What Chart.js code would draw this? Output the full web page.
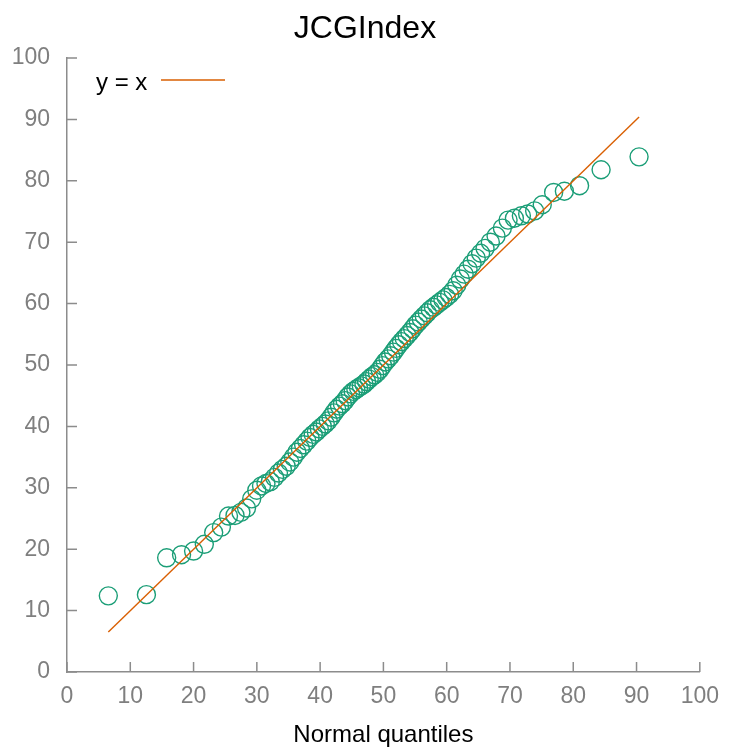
<!DOCTYPE html>
<html><head><meta charset="utf-8">
<script src="https://cdn.jsdelivr.net/npm/chart.js@4/dist/chart.umd.min.js"></script>
<style>html,body{margin:0;padding:0;background:#fff}#wrap{width:730px;height:754px}</style>
</head><body><div id="wrap"><canvas id="c" width="730" height="754"></canvas></div>
<script>
const chartTitle = 'JCGIndex';
const xAxisTitle = 'Normal quantiles';
const lineLabel = 'y = x';
const tickValues = [0,10,20,30,40,50,60,70,80,90,100];
const normalQuantiles = [6.53,12.55,15.75,18.1,20.0,21.7,23.18,24.40,25.52,26.55,27.48,28.37,29.19,29.99,30.74,31.44,32.13,32.80,33.42,34.04,34.64,35.21,35.78,36.33,36.87,37.39,37.91,38.41,38.91,39.40,39.87,40.35,40.81,41.28,41.73,42.18,42.62,43.07,43.51,43.94,44.36,44.80,45.22,45.65,46.07,46.51,46.93,47.34,47.76,48.19,48.61,49.04,49.46,49.87,50.29,50.73,51.15,51.58,52.00,52.44,52.86,53.29,53.73,54.18,54.62,55.07,55.52,55.99,56.45,56.93,57.40,57.90,58.39,58.89,59.41,59.93,60.47,61.02,61.59,62.16,62.76,63.38,64.01,64.67,65.36,66.06,66.9,67.8,68.8,69.7,70.7,71.8,72.8,73.9,75.1,76.9,78.6,81.0,84.4,90.4];
const sampleValues = [12.4,12.6,18.6,19.1,19.7,20.8,22.7,23.6,25.4,25.5,26.0,26.7,28.2,29.6,30.3,30.7,31.0,31.7,32.4,33.0,33.5,34.2,35.0,35.8,36.4,37.0,37.6,38.2,38.7,39.1,39.6,40.0,40.4,40.9,41.5,42.2,42.8,43.3,43.7,44.2,44.8,45.3,45.7,46.0,46.3,46.6,46.9,47.3,47.7,48.1,48.4,48.8,49.3,49.9,50.5,51.0,51.5,52.1,52.7,53.3,53.8,54.3,54.8,55.3,55.9,56.5,57.0,57.5,58.0,58.5,59.0,59.4,59.8,60.2,60.6,61.0,61.5,62.1,63.0,64.0,64.8,65.6,66.5,67.4,68.2,69.0,70.0,71.0,72.3,73.6,73.9,74.3,74.6,75.1,76.1,78.1,78.3,79.2,81.8,83.9];
const refLineEnds = [6.53, 90.4];

const GREEN = '#1b9e77', ORANGE = '#d95f02', AXIS = '#8c8c8c', LABEL = '#7f7f7f';
const FONT = "'Liberation Sans', Arial, Helvetica, sans-serif";

const inwardTicks = {
  id: 'inwardTicks',
  afterDraw(chart) {
    const {ctx, chartArea: a, scales: {x, y}} = chart;
    ctx.save();
    ctx.strokeStyle = AXIS; ctx.lineWidth = 1.5;
    ctx.beginPath();
    tickValues.forEach(v => {
      const px = x.getPixelForValue(v);
      ctx.moveTo(px, a.bottom); ctx.lineTo(px, a.bottom - 10);
      const py = y.getPixelForValue(v);
      ctx.moveTo(a.left, py); ctx.lineTo(a.left + 10, py);
    });
    ctx.stroke();
    ctx.restore();
  }
};
const lineKey = {
  id: 'lineKey',
  afterDraw(chart) {
    const {ctx, chartArea: a} = chart;
    const ds = chart.data.datasets[0];
    ctx.save();
    ctx.font = '24px ' + FONT;
    ctx.fillStyle = '#000';
    ctx.textBaseline = 'middle';
    ctx.textAlign = 'left';
    ctx.fillText(ds.label, a.left + 29, a.top + 25);
    ctx.strokeStyle = ds.borderColor; ctx.lineWidth = 1.5;
    ctx.beginPath(); ctx.moveTo(a.left + 94, a.top + 22); ctx.lineTo(a.left + 158, a.top + 22); ctx.stroke();
    ctx.restore();
  }
};

new Chart(document.getElementById('c'), {
  data: {
    datasets: [
      { type: 'line', label: lineLabel, data: refLineEnds.map(v => ({x: v, y: v})),
        borderColor: ORANGE, borderWidth: 1.4, pointRadius: 0, fill: false },
      { type: 'scatter', label: 'JCGIndex', data: normalQuantiles.map((q, i) => ({x: q, y: sampleValues[i]})),
        borderColor: GREEN, backgroundColor: 'rgba(0,0,0,0)', pointRadius: 9, borderWidth: 1.4, pointHoverRadius: 9 }
    ]
  },
  options: {
    responsive: false, animation: false, devicePixelRatio: 1,
    layout: { padding: { left: 0, right: 0, top: 0, bottom: 0 } },
    plugins: {
      legend: { display: false }, tooltip: { enabled: false },
      title: { display: true, text: chartTitle, color: '#000', font: { family: FONT, size: 32, weight: 'normal' }, padding: { top: 10, bottom: 9.6 } }
    },
    scales: {
      x: { type: 'linear', min: 0, max: 100,
        afterFit: s => { s.height = 82; },
        grid: { display: true, drawOnChartArea: false, drawTicks: false },
        border: { display: true, color: AXIS, width: 1.5 },
        ticks: { stepSize: 10, color: LABEL, font: { family: FONT, size: 23 }, padding: 11, maxRotation: 0 },
        title: { display: true, text: xAxisTitle, color: '#000', font: { family: FONT, size: 24 }, padding: { top: 0, bottom: 4 } }
      },
      y: { type: 'linear', min: 0, max: 100,
        afterFit: s => { s.width = 67; },
        grid: { display: true, drawOnChartArea: false, drawTicks: false },
        border: { display: true, color: AXIS, width: 1.5 },
        ticks: { stepSize: 10, color: LABEL, font: { family: FONT, size: 23 }, padding: 17 }
      },
      yRight: { type: 'linear', position: 'right', min: 0, max: 100, display: true,
        afterFit: s => { s.width = 29; },
        grid: { display: false, drawTicks: false },
        border: { display: false },
        ticks: { display: false }
      }
    }
  },
  plugins: [inwardTicks, lineKey]
});
</script>
</body></html>
